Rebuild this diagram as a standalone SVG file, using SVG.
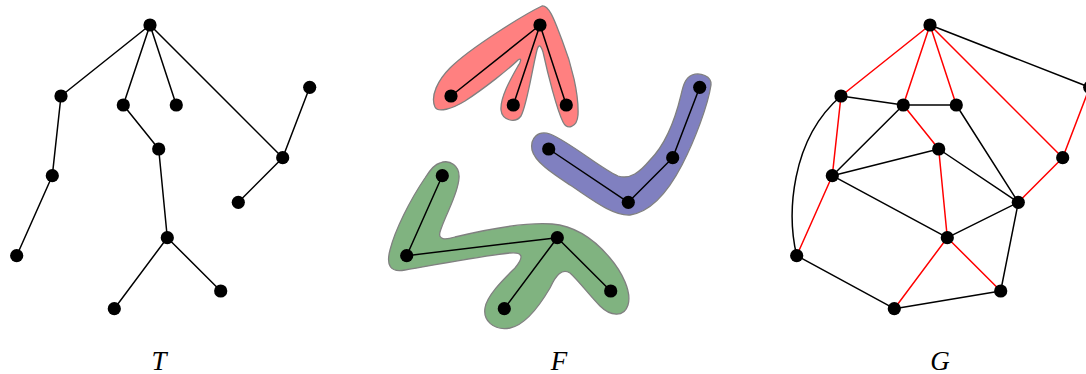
<svg xmlns="http://www.w3.org/2000/svg" width="1086" height="374" viewBox="0 0 1086 374">
<style>
.e{stroke:#000;stroke-width:1.5;fill:none;stroke-linecap:round}
.r{stroke:#ff0000;stroke-width:1.5;fill:none;stroke-linecap:round}
.n{fill:#000}
.blob{stroke:#808080;stroke-width:1.3}
.lbl{font-family:"Liberation Serif",serif;font-style:italic;font-size:27px;fill:#000;text-anchor:middle}
</style>
<defs>
<circle id="dot" r="6.6" class="n"/>
</defs>
<rect width="1086" height="374" fill="#fff"/>

<!-- Forest blobs -->
<g id="blobs">
<path id="blob-red" class="blob" fill="#ff8080" d="M 542,6 C 525,14 470,48 450,68 C 438,80 430,96 435,107 C 438,113 452,109 465,101 C 485,88 510,68 518,60 C 522,57 521,62 518,66 C 510,80 500,98 501,110 C 502,120 515,124 521,116 C 527,105 532,70 537,50 C 539,43 541,46 543,52 C 548,75 557,110 563,122 C 567,130 577,128 578,115 C 579,95 572,65 562,40 C 556,25 550,5 542,6 Z"/>
<path id="blob-blue" class="blob" fill="#8080c0" d="M 692,75 C 700,72 712,76 711,85 C 708,105 695,140 682,165 C 668,192 650,212 630,215 C 612,216 590,198 570,185 C 552,173 535,162 532,150 C 530,138 538,130 550,134 C 570,142 600,168 618,176 C 630,180 640,172 650,160 C 665,145 675,120 681,95 C 683,86 685,78 692,75 Z"/>
<path id="blob-green" class="blob" fill="#80b380" d="M 440,163 C 450,159 460,166 459,178 C 458,195 445,215 440,232 C 438,240 445,240 455,237 C 480,231 525,222 552,224 C 575,226 595,240 610,258 C 622,272 632,292 628,305 C 624,318 610,316 600,306 C 590,296 578,280 570,273 C 562,268 556,275 550,288 C 540,305 525,325 510,328 C 493,331 483,320 485,308 C 487,295 505,278 515,268 C 525,256 522,252 510,253 C 480,256 430,266 405,270 C 390,273 386,265 390,250 C 395,230 410,200 425,178 C 430,170 435,164 440,163 Z"/>
</g>

<g id="connectors">
<!-- T -->
<g id="T-edges" class="e">
<line x1="150" y1="25" x2="61" y2="96"/>
<line x1="150" y1="25" x2="123.3" y2="105"/>
<line x1="150" y1="25" x2="176.3" y2="105"/>
<line x1="150" y1="25" x2="282.7" y2="157.7"/>
<line x1="61" y1="96" x2="52.3" y2="175.7"/>
<line x1="52.3" y1="175.7" x2="16.7" y2="255.7"/>
<line x1="123.3" y1="105" x2="158.7" y2="149"/>
<line x1="158.7" y1="149" x2="167.3" y2="237.7"/>
<line x1="167.3" y1="237.7" x2="114.3" y2="308.7"/>
<line x1="167.3" y1="237.7" x2="220.7" y2="291"/>
<line x1="282.7" y1="157.7" x2="309.7" y2="87.3"/>
<line x1="282.7" y1="157.7" x2="238.3" y2="202.3"/>
</g>
<!-- F -->
<g id="F-edges" class="e">
<line x1="540" y1="25" x2="451" y2="96"/>
<line x1="540" y1="25" x2="513.3" y2="105"/>
<line x1="540" y1="25" x2="566.3" y2="105"/>
<line x1="548.7" y1="149" x2="628.3" y2="202.3"/>
<line x1="628.3" y1="202.3" x2="672.7" y2="157.7"/>
<line x1="672.7" y1="157.7" x2="699.7" y2="87.3"/>
<line x1="442.3" y1="175.7" x2="406.7" y2="255.7"/>
<line x1="406.7" y1="255.7" x2="557.3" y2="237.7"/>
<line x1="557.3" y1="237.7" x2="504.3" y2="308.7"/>
<line x1="557.3" y1="237.7" x2="610.7" y2="291"/>
</g>
<!-- G black -->
<g id="G-edges-black" class="e">
<line x1="930" y1="25" x2="1089.7" y2="87.3"/>
<line x1="841" y1="96" x2="903.3" y2="105"/>
<line x1="903.3" y1="105" x2="956.3" y2="105"/>
<line x1="956.3" y1="105" x2="1018.3" y2="202.3"/>
<line x1="903.3" y1="105" x2="832.3" y2="175.7"/>
<line x1="832.3" y1="175.7" x2="938.7" y2="149"/>
<line x1="832.3" y1="175.7" x2="947.3" y2="237.7"/>
<line x1="938.7" y1="149" x2="1018.3" y2="202.3"/>
<line x1="947.3" y1="237.7" x2="1018.3" y2="202.3"/>
<line x1="1018.3" y1="202.3" x2="1000.7" y2="291"/>
<line x1="1000.7" y1="291" x2="894.3" y2="308.7"/>
<line x1="894.3" y1="308.7" x2="796.7" y2="255.7"/>
<path d="M 796.7,255.7 C 787,215 790,140 841,96"/>
</g>
<!-- G red -->
<g id="G-edges-red" class="r">
<line x1="930" y1="25" x2="841" y2="96"/>
<line x1="930" y1="25" x2="903.3" y2="105"/>
<line x1="930" y1="25" x2="956.3" y2="105"/>
<line x1="930" y1="25" x2="1062.7" y2="157.7"/>
<line x1="841" y1="96" x2="832.3" y2="175.7"/>
<line x1="832.3" y1="175.7" x2="796.7" y2="255.7"/>
<line x1="903.3" y1="105" x2="938.7" y2="149"/>
<line x1="938.7" y1="149" x2="947.3" y2="237.7"/>
<line x1="947.3" y1="237.7" x2="894.3" y2="308.7"/>
<line x1="947.3" y1="237.7" x2="1000.7" y2="291"/>
<line x1="1062.7" y1="157.7" x2="1089.7" y2="87.3"/>
<line x1="1062.7" y1="157.7" x2="1018.3" y2="202.3"/>
</g>
</g>

<!-- T nodes -->
<g id="T-r"><use href="#dot" x="150" y="25"/></g>
<g id="T-a"><use href="#dot" x="61" y="96"/></g>
<g id="T-b"><use href="#dot" x="123.3" y="105"/></g>
<g id="T-c"><use href="#dot" x="176.3" y="105"/></g>
<g id="T-d"><use href="#dot" x="309.7" y="87.3"/></g>
<g id="T-e"><use href="#dot" x="282.7" y="157.7"/></g>
<g id="T-f"><use href="#dot" x="158.7" y="149"/></g>
<g id="T-g"><use href="#dot" x="52.3" y="175.7"/></g>
<g id="T-h"><use href="#dot" x="238.3" y="202.3"/></g>
<g id="T-i"><use href="#dot" x="167.3" y="237.7"/></g>
<g id="T-j"><use href="#dot" x="16.7" y="255.7"/></g>
<g id="T-k"><use href="#dot" x="220.7" y="291"/></g>
<g id="T-l"><use href="#dot" x="114.3" y="308.7"/></g>

<!-- F nodes -->
<g id="F-r"><use href="#dot" x="540" y="25"/></g>
<g id="F-a"><use href="#dot" x="451" y="96"/></g>
<g id="F-b"><use href="#dot" x="513.3" y="105"/></g>
<g id="F-c"><use href="#dot" x="566.3" y="105"/></g>
<g id="F-d"><use href="#dot" x="699.7" y="87.3"/></g>
<g id="F-e"><use href="#dot" x="672.7" y="157.7"/></g>
<g id="F-f"><use href="#dot" x="548.7" y="149"/></g>
<g id="F-g"><use href="#dot" x="442.3" y="175.7"/></g>
<g id="F-h"><use href="#dot" x="628.3" y="202.3"/></g>
<g id="F-i"><use href="#dot" x="557.3" y="237.7"/></g>
<g id="F-j"><use href="#dot" x="406.7" y="255.7"/></g>
<g id="F-k"><use href="#dot" x="610.7" y="291"/></g>
<g id="F-l"><use href="#dot" x="504.3" y="308.7"/></g>

<!-- G nodes -->
<g id="G-r"><use href="#dot" x="930" y="25"/></g>
<g id="G-a"><use href="#dot" x="841" y="96"/></g>
<g id="G-b"><use href="#dot" x="903.3" y="105"/></g>
<g id="G-c"><use href="#dot" x="956.3" y="105"/></g>
<g id="G-d"><use href="#dot" x="1089.7" y="87.3"/></g>
<g id="G-e"><use href="#dot" x="1062.7" y="157.7"/></g>
<g id="G-f"><use href="#dot" x="938.7" y="149"/></g>
<g id="G-g"><use href="#dot" x="832.3" y="175.7"/></g>
<g id="G-h"><use href="#dot" x="1018.3" y="202.3"/></g>
<g id="G-i"><use href="#dot" x="947.3" y="237.7"/></g>
<g id="G-j"><use href="#dot" x="796.7" y="255.7"/></g>
<g id="G-k"><use href="#dot" x="1000.7" y="291"/></g>
<g id="G-l"><use href="#dot" x="894.3" y="308.7"/></g>

<g id="labels">
<text class="lbl" x="159" y="370">T</text>
<text class="lbl" x="559" y="370">F</text>
<text class="lbl" x="940" y="370">G</text>
</g>
</svg>
